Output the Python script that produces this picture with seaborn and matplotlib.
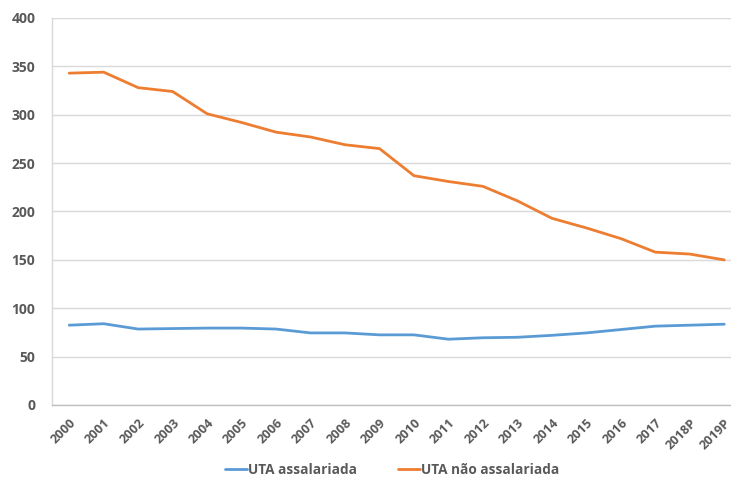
import matplotlib
matplotlib.use("Agg")
import matplotlib.pyplot as plt
import seaborn as sns
import pandas as pd

years = ["2000", "2001", "2002", "2003", "2004", "2005", "2006", "2007", "2008", "2009",
         "2010", "2011", "2012", "2013", "2014", "2015", "2016", "2017", "2018P", "2019P"]
uta_assalariada = [82.5, 84, 78.5, 79, 79.5, 79.5, 78.5, 74.5, 74.5, 72.5,
                   72.5, 68, 69.5, 70, 72, 74.5, 78, 81.5, 82.5, 83.5]
uta_nao_assalariada = [343, 344, 328, 324, 301, 292, 282, 277, 269, 265,
                       237, 231, 226, 211, 193, 183, 172, 158, 156, 150]
series_names = ["UTA assalariada", "UTA não assalariada"]
palette = ["#5B9BD5", "#ED7D31"]
y_ticks = [0, 50, 100, 150, 200, 250, 300, 350, 400]

df = pd.DataFrame({
    "ano": list(range(len(years))) * 2,
    "valor": uta_assalariada + uta_nao_assalariada,
    "serie": [series_names[0]] * len(years) + [series_names[1]] * len(years),
})

sns.set_theme(style="white")
plt.rcParams["font.family"] = ["Open Sans", "DejaVu Sans"]

fig = plt.figure(figsize=(7.31, 4.78), dpi=100)
ax = fig.add_axes([52 / 731, 73 / 478, 689.5 / 731, 387 / 478])

sns.lineplot(data=df, x="ano", y="valor", hue="serie", palette=palette,
             linewidth=2.0, ax=ax, legend=False)

ax.set_xlim(-0.5, len(years) - 0.5)
ax.set_ylim(0, 400)
ax.set_yticks(y_ticks)
ax.set_xticks(range(len(years)))
ax.set_xticklabels(years, rotation=45, ha="right", rotation_mode="anchor",
                   fontsize=9.2, fontweight="bold", color="#595959")
ax.tick_params(axis="x", pad=8, length=0)
ax.tick_params(axis="y", pad=12, length=0, labelsize=10, labelcolor="#595959")
for lbl in ax.get_yticklabels():
    lbl.set_fontweight("bold")
ax.set_xlabel("")
ax.set_ylabel("")
ax.yaxis.grid(True, color="#D9D9D9", linewidth=1.0)
ax.set_axisbelow(True)
for side in ["top", "right"]:
    ax.spines[side].set_visible(False)
ax.spines["left"].set_color("#D9D9D9")
ax.spines["bottom"].set_color("#BFBFBF")
ax.spines["left"].set_linewidth(1.0)
ax.spines["bottom"].set_linewidth(1.0)

handles = [plt.Line2D([], [], color=c, linewidth=2.0) for c in palette]
leg = fig.legend(handles, series_names, loc="center", bbox_to_anchor=(392 / 731, 1 - 470 / 478),
                 ncol=2, frameon=False, handlelength=1.6, handletextpad=0.1,
                 columnspacing=3.0, prop={"size": 9.8, "weight": "bold"})
for t in leg.get_texts():
    t.set_color("#595959")

fig.savefig("out.png", dpi=100)
